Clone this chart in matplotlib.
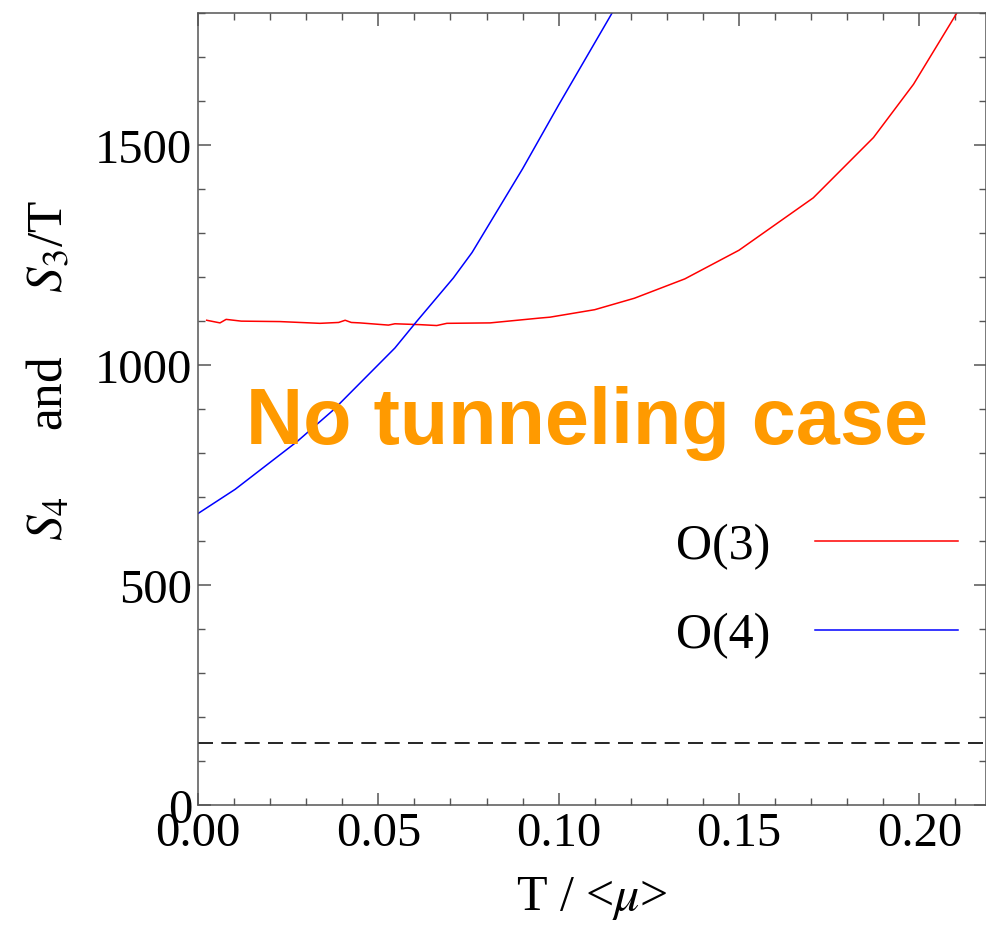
"""
Bounce action S4 and S3/T versus temperature
"""

import matplotlib

matplotlib.use("Agg")
import matplotlib.pyplot as plt
from matplotlib.ticker import MultipleLocator

# O(3) symmetric bounce, S3/T
t_o3 = [0.0024, 0.0061, 0.0078, 0.0120, 0.0227, 0.0338, 0.0390, 0.0408,
        0.0425, 0.0449, 0.0528, 0.0546, 0.0616, 0.0662, 0.0690, 0.0810,
        0.0948, 0.0976, 0.1100, 0.1210, 0.1350, 0.1500, 0.1706, 0.1873,
        0.1984, 0.2108]
s_o3 = [1101, 1095, 1103, 1099, 1098, 1094, 1096, 1101,
        1096, 1095, 1090, 1093, 1091, 1089, 1094, 1095,
        1106, 1108, 1125, 1151, 1195, 1260, 1379, 1516,
        1637, 1804]

# O(4) symmetric bounce, S4
t_o4 = [0.0, 0.0103, 0.0274, 0.0375, 0.0421, 0.0546, 0.0606, 0.0708,
        0.0760, 0.0900, 0.1000, 0.1149]
s_o4 = [662, 717, 825, 897, 935, 1038, 1098, 1197,
        1255, 1445, 1590, 1800]

s_crit = 140
labels = ["O(3)", "O(4)"]

plt.rcParams["font.family"] = ["Liberation Serif", "DejaVu Serif"]
plt.rcParams["mathtext.fontset"] = "stix"

fig = plt.figure(figsize=(9.86, 9.28), dpi=100)
ax = fig.add_axes([198 / 986, 122 / 928, 788 / 986, 792.5 / 928])

ax.plot(t_o3, s_o3, color="#ff0000", lw=1.1, label=labels[0])
ax.plot(t_o4, s_o4, color="#0000ff", lw=1.1, label=labels[1])
ax.axhline(s_crit, color="black", lw=1.2, dashes=[9, 5])

ax.set_xlim(0, 0.2185)
ax.set_ylim(0, 1800)

ax.xaxis.set_major_locator(MultipleLocator(0.05))
ax.xaxis.set_minor_locator(MultipleLocator(0.01))
ax.yaxis.set_major_locator(MultipleLocator(500))
ax.yaxis.set_minor_locator(MultipleLocator(100))
ax.xaxis.set_major_formatter(lambda v, _: f"{v:.2f}")

ax.tick_params(which="both", direction="in", top=True, right=True,
               color="#555555", labelsize=35, pad=4)
ax.tick_params(which="major", length=9, width=1.1)
ax.tick_params(which="minor", length=5, width=1.0)
for spine in ax.spines.values():
    spine.set_color("#555555")
    spine.set_linewidth(1.1)

ax.set_xlabel(r"T / <$\mu$>", fontsize=36, labelpad=14)
ax.set_ylabel(r"$S_4$     and     $S_3$/T", fontsize=37)
ax.yaxis.set_label_coords(-0.158, 0.55)

ax.text(0.1079, 868, "No tunneling case", color="#ff9a00", fontsize=57,
        fontweight="bold", family="Liberation Sans", ha="center", va="center")

ax.legend(loc="upper right", bbox_to_anchor=(1.021, 0.413), frameon=False,
          markerfirst=False, fontsize=36, handlelength=2.85,
          handletextpad=0.9, labelspacing=0.85)

fig.savefig("out.png", dpi=100)
